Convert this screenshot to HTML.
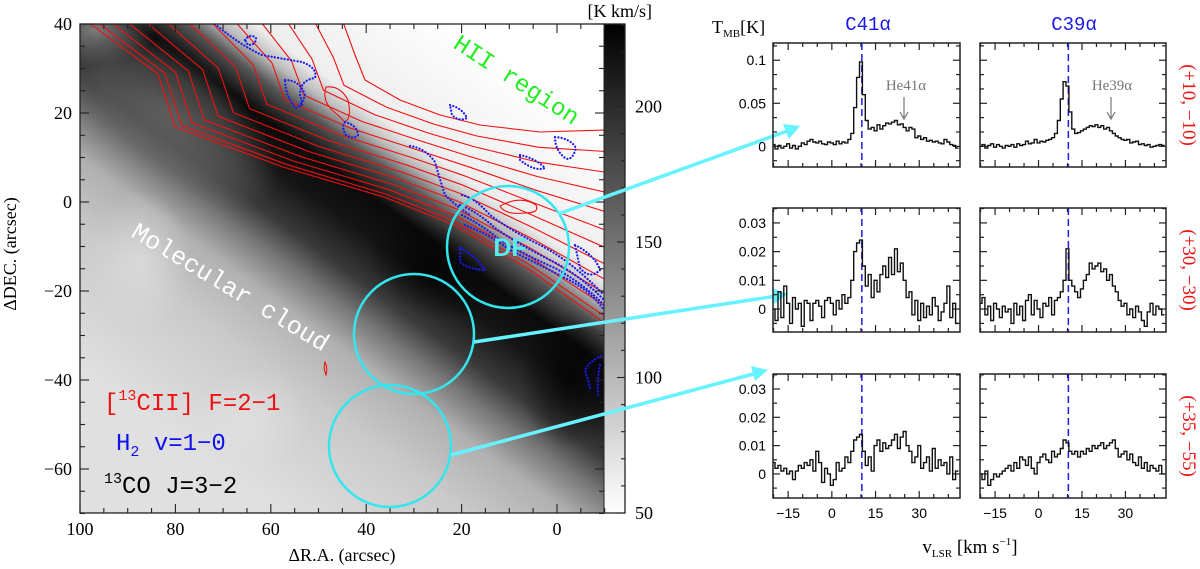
<!DOCTYPE html>
<html><head><meta charset="utf-8">
<style>
html,body{margin:0;padding:0;background:#fff;}
svg{display:block;}
text{font-family:"Liberation Serif",serif;}
.mono{font-family:"Liberation Mono",monospace;}
.sans{font-family:"Liberation Sans",sans-serif;}
</style></head>
<body>
<svg id="fig" width="1200" height="569" viewBox="0 0 1200 569" xmlns="http://www.w3.org/2000/svg">
<defs>
 <linearGradient id="mapg" gradientUnits="userSpaceOnUse" x1="152.5" y1="421" x2="447.5" y2="16">
  <stop offset="0" stop-color="#e0e0e0"/>
  <stop offset="0.22" stop-color="#cacaca"/>
  <stop offset="0.34" stop-color="#b0b0b0"/>
  <stop offset="0.41" stop-color="#777"/>
  <stop offset="0.47" stop-color="#3a3a3a"/>
  <stop offset="0.55" stop-color="#151515"/>
  <stop offset="0.62" stop-color="#0a0a0a"/>
  <stop offset="0.68" stop-color="#555"/>
  <stop offset="0.72" stop-color="#bbb"/>
  <stop offset="0.76" stop-color="#eee"/>
  <stop offset="1" stop-color="#fff"/>
 </linearGradient>
 <linearGradient id="cbg" x1="0" y1="1" x2="0" y2="0">
  <stop offset="0" stop-color="#fff"/>
  <stop offset="1" stop-color="#000"/>
 </linearGradient>
 <radialGradient id="rgGray"><stop offset="0" stop-color="#707070" stop-opacity="0.75"/><stop offset="0.6" stop-color="#707070" stop-opacity="0.45"/><stop offset="1" stop-color="#707070" stop-opacity="0"/></radialGradient>
 <radialGradient id="rgLight"><stop offset="0" stop-color="#e6e6e6" stop-opacity="0.6"/><stop offset="1" stop-color="#e6e6e6" stop-opacity="0"/></radialGradient>
 <radialGradient id="rgBlack"><stop offset="0" stop-color="#000" stop-opacity="0.7"/><stop offset="1" stop-color="#000" stop-opacity="0"/></radialGradient>
 <radialGradient id="rgMid"><stop offset="0" stop-color="#999" stop-opacity="0.8"/><stop offset="1" stop-color="#999" stop-opacity="0"/></radialGradient>
 <clipPath id="mapclip"><rect x="80" y="24" width="524" height="489"/></clipPath>
</defs>
<g id="map">
 <rect x="80" y="24" width="524" height="489" fill="url(#mapg)"/>
 <g clip-path="url(#mapclip)">
  <ellipse cx="95" cy="30" rx="60" ry="35" fill="url(#rgMid)"/>
  <ellipse cx="170" cy="115" rx="130" ry="60" fill="url(#rgGray)" transform="rotate(38 170 115)"/>
  <ellipse cx="140" cy="260" rx="50" ry="70" fill="url(#rgLight)"/>
  <ellipse cx="250" cy="420" rx="60" ry="50" fill="url(#rgLight)"/>
  <ellipse cx="430" cy="270" rx="70" ry="45" fill="url(#rgBlack)" transform="rotate(30 430 270)"/>
  <ellipse cx="570" cy="380" rx="50" ry="70" fill="url(#rgBlack)"/>
 </g>
 <g id="redc" clip-path="url(#mapclip)"></g>
 <g id="bluec" clip-path="url(#mapclip)"></g>
 <rect x="604" y="24" width="21" height="489" fill="url(#cbg)"/>
 <g id="mapaxes"></g>
 <rect x="80" y="24" width="545" height="489" fill="none" stroke="#222" stroke-width="1.3"/>
 <line x1="604" y1="24" x2="604" y2="513" stroke="#222" stroke-width="1"/>
 <text x="652" y="17" font-size="18" text-anchor="end">[K km/s]</text>
 <text x="342" y="561" font-size="18" text-anchor="middle">ΔR.A. (arcsec)</text>
 <text transform="translate(16,254) rotate(-90)" font-size="18" text-anchor="middle">ΔDEC. (arcsec)</text>
 <text class="mono" transform="translate(452,47) rotate(33)" font-size="24" fill="#22ee22">HII region</text>
 <text class="mono" transform="translate(130,236) rotate(31)" font-size="25" fill="#fff">Molecular cloud</text>
 <text class="mono" x="104" y="410" font-size="24" fill="#ee1111">[<tspan font-size="15" dy="-10">13</tspan><tspan dy="10">CII] F=2−1</tspan></text>
 <text class="mono" x="116" y="450" font-size="24" fill="#1111ee">H<tspan font-size="15" dy="6">2</tspan><tspan dy="-6"> v=1−0</tspan></text>
 <text class="mono" x="104" y="493" font-size="24" fill="#000"><tspan font-size="15" dy="-10">13</tspan><tspan dy="10">CO J=3−2</tspan></text>
 <g fill="none" stroke="#33e6ee" stroke-width="2.5">
  <circle cx="508" cy="247" r="61"/>
  <circle cx="414" cy="334" r="60"/>
  <circle cx="390" cy="446" r="61"/>
 </g>
 <text class="sans" x="510" y="256" font-size="25" font-weight="bold" fill="#55eeee" text-anchor="middle">DF</text>
</g>
<g stroke="#66f2ff" stroke-width="3.5" fill="#66f2ff">
 <line x1="558" y1="214" x2="790" y2="130"/>
 <polygon stroke="none" points="800,126 783,124 789,139"/>
 <line x1="474" y1="342" x2="777" y2="296"/>
 <polygon stroke="none" points="788,294 772,288 774,304"/>
 <line x1="451" y1="455" x2="757" y2="373"/>
 <polygon stroke="none" points="768,370 751,366 755,381"/>
</g>
<g id="spectra"></g>
<text x="712" y="33" font-size="18">T<tspan font-size="11" dy="4">MB</tspan><tspan dy="-4">[K]</tspan></text>
<text x="868" y="30" font-size="19" fill="#1a1aee" text-anchor="middle" class="mono">C41α</text>
<text x="1074" y="30" font-size="19" fill="#1a1aee" text-anchor="middle" class="mono">C39α</text>
<text transform="translate(1183,105) rotate(90)" font-size="19" fill="#ee1111" text-anchor="middle">(+10, −10)</text>
<text transform="translate(1183,270) rotate(90)" font-size="19" fill="#ee1111" text-anchor="middle">(+30, −30)</text>
<text transform="translate(1183,436) rotate(90)" font-size="19" fill="#ee1111" text-anchor="middle">(+35, −55)</text>
<text x="970" y="553" font-size="19" text-anchor="middle">v<tspan font-size="11" dy="4">LSR</tspan><tspan dy="-4"> [km s</tspan><tspan font-size="11" dy="-8">−1</tspan><tspan dy="8">]</tspan></text>
<text x="906" y="90" font-size="15" fill="#777" text-anchor="middle">He41α</text>
<text x="1112" y="90" font-size="15" fill="#777" text-anchor="middle">He39α</text>
<g stroke="#777" stroke-width="1.2" fill="none">
 <path d="M904,97 V118 M900,112 L904,119 L908,112"/>
 <path d="M1111,97 V118 M1107,112 L1111,119 L1115,112"/>
</g>
</svg>
<script>
// ---------- spectra data (v from -20 to 43 km/s, 1 km/s channels) ----------
const vStart = -20;
const vStep = 1;
const xTicksLabels = [-15, 0, 15, 30];
const c41_r1 = [0.002,-0.003,0.001,-0.002,0.0,0.003,-0.002,0.001,-0.003,0.0,
 0.004,0.002,0.006,0.008,0.005,0.004,0.006,0.003,0.002,0.005,
 0.004,0.002,0.006,0.003,0.005,0.004,0.008,0.015,0.045,0.080,
 0.098,0.060,0.030,0.020,0.022,0.018,0.025,0.020,0.024,0.027,
 0.026,0.028,0.030,0.025,0.026,0.022,0.018,0.022,0.020,0.010,
 0.012,0.008,0.010,0.006,0.007,0.005,0.006,0.004,0.003,0.008,
 0.005,0.002,0.001,-0.002];
const c39_r1 = [0.0,0.002,-0.002,0.001,0.003,-0.001,0.002,0.0,-0.002,0.001,
 0.0,0.002,-0.001,0.003,0.001,0.002,0.006,0.003,0.004,0.008,
 0.004,0.006,0.005,0.007,0.008,0.010,0.015,0.030,0.055,0.075,
 0.070,0.040,0.020,0.015,0.016,0.018,0.020,0.022,0.024,0.023,
 0.025,0.022,0.024,0.020,0.022,0.018,0.015,0.012,0.010,0.008,
 0.007,0.008,0.004,0.005,0.006,0.002,0.003,0.001,0.002,-0.001,
 0.0,0.001,0.002,0.001];
const c41_r2 = [0.0,-0.004,0.006,-0.003,0.008,0.002,-0.005,0.004,0.0,0.002,
 -0.006,0.003,0.002,-0.004,0.002,0.003,0.001,-0.003,0.003,0.004,
 0.002,-0.002,0.003,0.0,0.005,0.002,0.004,0.010,0.020,0.023,
 0.024,0.015,0.008,0.012,0.004,0.010,0.006,0.012,0.015,0.011,
 0.018,0.012,0.021,0.013,0.016,0.010,0.004,0.006,-0.002,0.003,
 -0.004,0.002,-0.003,0.001,-0.002,0.004,0.001,-0.004,-0.001,0.002,
 0.008,-0.003,0.002,-0.005];
const c39_r2 = [0.002,0.004,-0.002,0.001,-0.004,0.002,0.0,-0.003,0.001,-0.001,
 0.0,-0.005,0.002,-0.002,0.001,-0.004,0.003,0.005,-0.002,0.003,
 0.0,-0.003,0.002,0.001,0.004,-0.002,0.003,0.004,0.006,0.010,
 0.021,0.010,0.008,0.006,0.004,0.007,0.010,0.012,0.016,0.014,
 0.015,0.016,0.013,0.014,0.010,0.012,0.008,0.006,0.003,0.001,
 0.002,-0.002,0.0,-0.003,0.001,-0.001,-0.004,-0.006,-0.001,0.002,
 -0.002,0.001,0.0,-0.002];
const c41_r3 = [0.004,0.002,0.003,0.001,0.002,0.0,0.001,-0.002,0.001,0.003,
 0.002,0.004,0.003,0.005,0.001,0.008,0.004,-0.003,0.002,0.0,
 -0.004,-0.002,0.004,0.001,0.002,0.006,0.004,0.008,0.012,0.013,
 0.014,0.008,0.003,0.006,0.001,0.010,0.012,0.008,0.011,0.009,
 0.010,0.012,0.014,0.009,0.013,0.015,0.010,0.008,0.004,0.006,
 0.010,0.002,0.004,0.006,0.001,0.009,0.002,0.005,0.003,0.004,
 0.0,0.006,-0.002,0.001];
const c39_r3 = [0.0,-0.002,0.001,-0.004,-0.002,0.0,-0.001,0.0,0.001,0.002,
 0.003,0.001,0.004,0.002,0.006,0.005,0.003,0.006,0.002,0.0,
 0.004,0.006,0.007,0.005,0.004,0.008,0.006,0.007,0.009,0.012,
 0.011,0.008,0.007,0.008,0.006,0.008,0.007,0.009,0.008,0.010,
 0.009,0.010,0.011,0.009,0.010,0.011,0.012,0.009,0.006,0.007,
 0.008,0.005,0.007,0.004,0.003,0.006,0.002,0.004,0.001,0.003,
 0.002,0.001,0.003,0.0];
const row1YLabels = [0, 0.05, 0.1];
const row23YLabels = [0, 0.01, 0.02, 0.03];
const systemicV = 10.3;

const NS = 'http://www.w3.org/2000/svg';
function el(tag, parent) { const e = document.createElementNS(NS, tag); parent.appendChild(e); return e; }

const spectraG = document.getElementById('spectra');
const vMin = -20.2, vMax = 44;
const cols = [[773, 960], [980, 1166]];
const rows = [
  {y0: 43, y1: 167, lo: -0.024, hi: 0.12, labels: row1YLabels, minor: 0.05/3},
  {y0: 208, y1: 332, lo: -0.008, hi: 0.0352, labels: row23YLabels, minor: 0.005},
  {y0: 374, y1: 498, lo: -0.0085, hi: 0.0353, labels: row23YLabels, minor: 0.005}
];
const series = [[c41_r1, c39_r1], [c41_r2, c39_r2], [c41_r3, c39_r3]];

rows.forEach((r, ri) => {
  cols.forEach((c, ci) => {
    const xs = v => c[0] + (v - vMin) / (vMax - vMin) * (c[1] - c[0]);
    const ys = t => r.y1 - (t - r.lo) / (r.hi - r.lo) * (r.y1 - r.y0);
    const g = el('g', spectraG);
    
    
    for (let v = -20; v <= 44; v += 5) {
      const major = (v % 15 === 0);
      const len = major ? 7 : 4;
      const X = xs(v);
      const t1 = el('line', g);
      
      
      t1.setAttribute('x1', X); t1.setAttribute('x2', X);
      t1.setAttribute('y1', r.y1); t1.setAttribute('y2', r.y1 - len);
      t1.setAttribute('stroke', '#222'); t1.setAttribute('stroke-width', '1.2');
      const t2 = el('line', g);
      
      
      t2.setAttribute('x1', X); t2.setAttribute('x2', X);
      t2.setAttribute('y1', r.y0); t2.setAttribute('y2', r.y0 + len);
      t2.setAttribute('stroke', '#222'); t2.setAttribute('stroke-width', '1.2');
    }
    if (ri === 2) {
      xTicksLabels.forEach(v => {
        const t = el('text', g);
        
        
        t.setAttribute('x', xs(v)); t.setAttribute('y', 518);
        t.setAttribute('font-size', '14'); t.setAttribute('text-anchor', 'middle');
        t.setAttribute('class', 'sans');
        t.textContent = v < 0 ? '−' + Math.abs(v) : String(v);
      });
    }
    const nStart = Math.ceil(r.lo / r.minor - 1e-6);
    for (let k = nStart; k * r.minor <= r.hi + 1e-9; k++) {
      const val = k * r.minor;
      const isMajor = r.labels.some(l => Math.abs(l - val) < 1e-6);
      const len = isMajor ? 7 : 4;
      const Y = ys(val);
      [[c[0], c[0] + len], [c[1], c[1] - len]].forEach(p => {
        const t = el('line', g);
        
        
        t.setAttribute('x1', p[0]); t.setAttribute('x2', p[1]);
        t.setAttribute('y1', Y); t.setAttribute('y2', Y);
        t.setAttribute('stroke', '#222'); t.setAttribute('stroke-width', '1.2');
      });
    }
    if (ci === 0) {
      r.labels.forEach(l => {
        const t = el('text', g);
        
        
        t.setAttribute('x', 766); t.setAttribute('y', ys(l) + 5);
        t.setAttribute('font-size', '14'); t.setAttribute('text-anchor', 'end');
        t.setAttribute('class', 'sans');
        t.textContent = String(l);
      });
    }
    const dl = el('line', g);
    
    
    dl.setAttribute('x1', xs(systemicV)); dl.setAttribute('x2', xs(systemicV));
    dl.setAttribute('y1', r.y0); dl.setAttribute('y2', r.y1);
    dl.setAttribute('stroke', '#1a1aee'); dl.setAttribute('stroke-width', '1.5');
    dl.setAttribute('stroke-dasharray', '7 4');
    const data = series[ri][ci];
    let d = '';
    data.forEach((val, i) => {
      const va = vStart + i * vStep - vStep / 2, vb = va + vStep;
      const xa = Math.max(xs(va), c[0]), xb = Math.min(xs(vb), c[1]);
      const Y = ys(val).toFixed(1);
      d += (i === 0 ? 'M' : 'L') + xa.toFixed(1) + ',' + Y + 'L' + xb.toFixed(1) + ',' + Y;
    });
    const p = el('path', g);
    
    
    p.setAttribute('d', d); p.setAttribute('fill', 'none');
    p.setAttribute('stroke', '#111'); p.setAttribute('stroke-width', '1.4');
    const fr = el('rect', g);
    
    
    fr.setAttribute('x', c[0]); fr.setAttribute('y', r.y0);
    fr.setAttribute('width', c[1] - c[0]); fr.setAttribute('height', r.y1 - r.y0);
    fr.setAttribute('fill', 'none'); fr.setAttribute('stroke', '#222'); fr.setAttribute('stroke-width', '1.5');
  });
});

// ---------- map axes ----------
const raTickLabels = [100, 80, 60, 40, 20, 0];
const decTickLabels = [40, 20, 0, -20, -40, -60];
const cbTickLabels = [50, 100, 150, 200];
const ax = document.getElementById('mapaxes');
const raX = ra => 557 - ra * 4.77;
const decY = dec => 202 - dec * 4.45;
const cbY = v => 513 - (v - 50) * 2.71;
function tick(x1, y1, x2, y2) {
  const t = el('line', ax);
  
  
  t.setAttribute('x1', x1); t.setAttribute('y1', y1); t.setAttribute('x2', x2); t.setAttribute('y2', y2);
  t.setAttribute('stroke', '#222'); t.setAttribute('stroke-width', '1.1');
}
for (let ra = 100; ra >= -10; ra -= 5) {
  const len = ra % 20 === 0 ? 9 : 5;
  tick(raX(ra), 513, raX(ra), 513 - len);
  tick(raX(ra), 24, raX(ra), 24 + len);
}
for (let dec = 40; dec >= -70; dec -= 5) {
  const len = dec % 20 === 0 ? 9 : 5;
  tick(80, decY(dec), 80 + len, decY(dec));
  tick(604, decY(dec), 604 - len, decY(dec));
}
for (let v = 50; v <= 230; v += 10) {
  const len = v % 50 === 0 ? 8 : 4;
  tick(625, cbY(v), 625 - len, cbY(v));
}
raTickLabels.forEach(ra => {
  const t = el('text', ax);
  
  
  t.setAttribute('x', raX(ra)); t.setAttribute('y', 535);
  t.setAttribute('font-size', '18'); t.setAttribute('text-anchor', 'middle');
  t.textContent = String(ra);
});
decTickLabels.forEach(dec => {
  const t = el('text', ax);
  
  
  t.setAttribute('x', 72); t.setAttribute('y', decY(dec) + 6);
  t.setAttribute('font-size', '18'); t.setAttribute('text-anchor', 'end');
  t.textContent = dec < 0 ? '−' + Math.abs(dec) : String(dec);
});
cbTickLabels.forEach(v => {
  const t = el('text', ax);
  
  
  t.setAttribute('x', 635); t.setAttribute('y', cbY(v) + 6);
  t.setAttribute('font-size', '18');
  t.textContent = String(v);
});

// ---------- contours: interpolate between lowest and highest contour ----------
const lowContour = [[88,22],[158,74],[175,127],[283,167],[384,197],[452,224],[530,270],[606,324]];
const highContour = [[343,22],[355,55],[365,80],[400,100],[440,115],[480,125],[540,132],[606,130]];
const nContours = 13;
const redG = document.getElementById('redc');
for (let i = 0; i < nContours; i++) {
  const t = Math.pow(i / (nContours - 1), 1.35);
  const pts = lowContour.map((p, k) => [p[0] + (highContour[k][0] - p[0]) * t, p[1] + (highContour[k][1] - p[1]) * t]);
  let d = 'M' + pts[0][0].toFixed(1) + ',' + pts[0][1].toFixed(1);
  for (let k = 1; k < pts.length; k++) d += ' L' + pts[k][0].toFixed(1) + ',' + pts[k][1].toFixed(1);
  const p = el('path', redG);
  
  
  p.setAttribute('d', d);
  p.setAttribute('fill', 'none'); p.setAttribute('stroke', '#f01010'); p.setAttribute('stroke-width', '1.1'); p.setAttribute('stroke-linejoin', 'round');
}
[['M500,206 Q520,195 536,205 Q540,213 525,213 Q505,215 500,206Z'],
 ['M326,87 Q340,85 348,100 Q352,118 345,122 Q338,115 332,110 Q322,100 326,87Z'],
 ['M325,362 Q328,368 326,375 Q323,368 325,362Z']].forEach(dd => {
  const p = el('path', redG);
  
  
  p.setAttribute('d', dd[0]); p.setAttribute('fill', 'none'); p.setAttribute('stroke', '#f01010'); p.setAttribute('stroke-width', '1.1');
});
const blueG = document.getElementById('bluec');
['M215,24 Q240,45 262,55 Q290,60 302,62 Q318,68 315,78 Q300,80 300,95 Q305,110 298,105',
 'M245,40 Q250,33 256,38 Q256,45 248,45Z',
 'M285,80 Q300,80 305,95 Q302,105 296,108 Q286,98 285,80Z',
 'M345,122 Q357,125 358,135 Q354,140 346,135 Q341,128 345,122Z',
 'M450,105 Q462,108 467,118 Q459,122 452,115Z',
 'M555,137 Q570,138 576,148 Q572,162 565,158 Q555,150 555,137Z',
 'M520,155 Q535,158 545,168 Q535,172 520,160Z',
 'M410,146 Q425,148 435,162 Q440,180 445,195 Q455,205 470,215',
 'M462,195 Q475,198 490,215 Q510,230 540,245 Q570,260 604,295',
 'M460,205 Q478,212 495,228 Q520,245 550,260 Q580,275 604,300',
 'M462,215 Q482,225 500,240 Q525,255 555,268 Q585,285 604,305',
 'M465,225 Q490,235 510,250 Q540,265 565,278 Q590,290 604,310',
 'M460,248 Q475,255 485,270 Q470,270 460,262Z',
 'M575,245 Q595,255 600,270 Q590,280 580,268Z',
 'M604,355 Q590,360 585,370 Q588,380 590,388',
 'M600,365 Q597,380 598,395'].forEach(dd => {
  const p = el('path', blueG);
  
  
  p.setAttribute('d', dd); p.setAttribute('fill', 'none'); p.setAttribute('stroke', '#1a1aee');
  p.setAttribute('stroke-width', '2.2'); p.setAttribute('stroke-dasharray', '0.1 3.2'); p.setAttribute('stroke-linecap', 'round');
});
</script>
</body></html>
